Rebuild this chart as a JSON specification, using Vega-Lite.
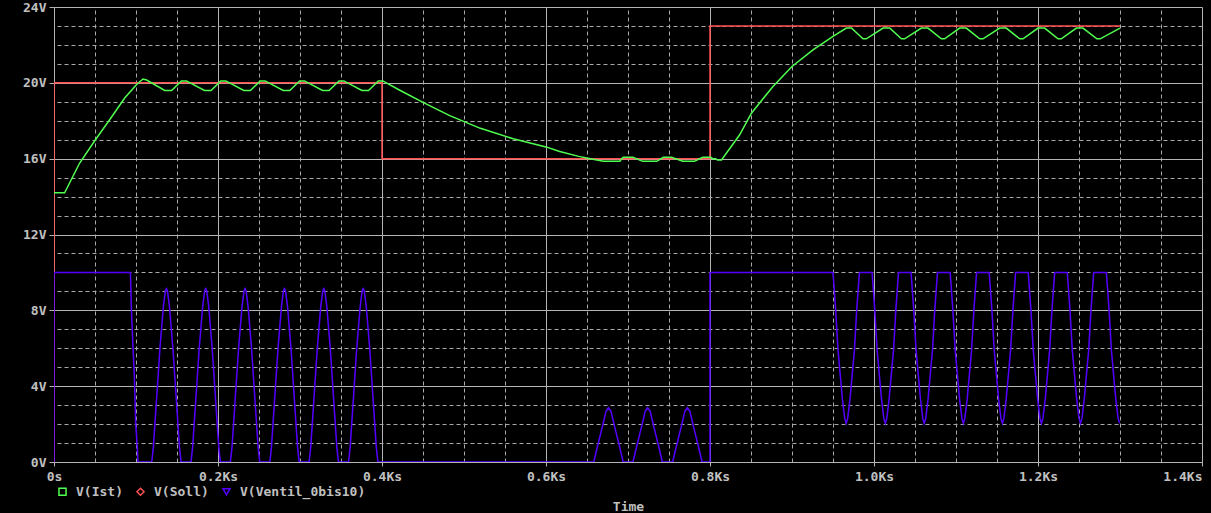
{
  "$schema": "https://vega.github.io/schema/vega-lite/v6.json",
  "width": 1148,
  "height": 455,
  "autosize": {"type": "none"},
  "padding": {"left": 54, "top": 7, "right": 9, "bottom": 51},
  "background": "#000000",
  "config": {
    "view": {"stroke": null},
    "axis": {
      "labelFont": "DejaVu Sans Mono",
      "labelFontWeight": "bold",
      "labelFontSize": 13,
      "labelColor": "#c0c0c0",
      "titleFont": "DejaVu Sans Mono",
      "titleFontWeight": "bold",
      "titleFontSize": 13,
      "titleColor": "#c0c0c0"
    }
  },
  "datasets": {
    "ist": [
      {"t":0,"v":14.2},{"t":13,"v":14.2},{"t":31.3,"v":15.77},{"t":50.5,"v":17.0},{"t":67.9,"v":18.05},{"t":86.2,"v":19.2},{"t":100.5,"v":19.9},{"t":108.5,"v":20.2},{"t":113,"v":20.15},
      {"t":135,"v":19.6},{"t":143.4,"v":19.6},{"t":155.4,"v":20.1},{"t":161.5,"v":20.1},
      {"t":183.5,"v":19.6},{"t":191.5,"v":19.6},{"t":203.5,"v":20.1},{"t":209.5,"v":20.1},
      {"t":231.5,"v":19.6},{"t":239.5,"v":19.6},{"t":251.5,"v":20.1},{"t":257.5,"v":20.1},
      {"t":279.5,"v":19.6},{"t":287.5,"v":19.6},{"t":299.5,"v":20.1},{"t":305.5,"v":20.1},
      {"t":327.5,"v":19.6},{"t":335.5,"v":19.6},{"t":347.5,"v":20.1},{"t":353.5,"v":20.1},
      {"t":375.5,"v":19.6},{"t":383.5,"v":19.6},{"t":395.5,"v":20.1},{"t":401,"v":20.1},
      {"t":420,"v":19.65},{"t":450,"v":18.97},{"t":482.6,"v":18.27},{"t":520,"v":17.6},{"t":560,"v":17.05},{"t":600,"v":16.62},{"t":616.7,"v":16.38},{"t":640,"v":16.12},{"t":654,"v":16.0},
      {"t":670,"v":15.86},{"t":690,"v":15.86},{"t":694,"v":16.07},{"t":706,"v":16.07},{"t":718,"v":15.86},{"t":735,"v":15.86},{"t":743,"v":16.07},{"t":753,"v":16.07},{"t":767,"v":15.86},{"t":781,"v":15.86},{"t":791,"v":16.07},{"t":801,"v":16.07},{"t":803,"v":16.0},{"t":807,"v":16.0},{"t":809,"v":15.93},{"t":814,"v":15.93},
      {"t":836.2,"v":17.26},{"t":850.5,"v":18.4},{"t":876.8,"v":19.81},{"t":900,"v":20.86},{"t":925.6,"v":21.74},{"t":950,"v":22.45},{"t":966.3,"v":22.89},{"t":972.5,"v":22.89},
      {"t":986.6,"v":22.32},{"t":990.6,"v":22.32},{"t":1011.1,"v":22.89},{"t":1019.1,"v":22.89},
      {"t":1033.4,"v":22.32},{"t":1037.4,"v":22.32},{"t":1057.8,"v":22.89},{"t":1065.8,"v":22.89},
      {"t":1082.1,"v":22.32},{"t":1086.1,"v":22.32},{"t":1104.5,"v":22.89},{"t":1112.5,"v":22.89},
      {"t":1128.9,"v":22.32},{"t":1132.9,"v":22.32},{"t":1153.3,"v":22.89},{"t":1161.3,"v":22.89},
      {"t":1177.7,"v":22.32},{"t":1181.7,"v":22.32},{"t":1200.1,"v":22.89},{"t":1208.1,"v":22.89},
      {"t":1224.4,"v":22.32},{"t":1228.4,"v":22.32},{"t":1246.8,"v":22.89},{"t":1254.8,"v":22.89},
      {"t":1271.8,"v":22.32},{"t":1275.8,"v":22.32},{"t":1300,"v":22.89}
    ],
    "soll": [
      {"t":0,"v":0},{"t":0,"v":20},{"t":400,"v":20},{"t":400,"v":16},{"t":800,"v":16},{"t":800,"v":23},{"t":1300,"v":23}
    ],
    "ventil": [
      {"t":0,"v":0},{"t":0,"v":10},{"t":93.2,"v":10},{"t":94.4,"v":8.04},{"t":96.3,"v":6.1},{"t":98,"v":4.52},{"t":99.6,"v":2.07},{"t":101.7,"v":0.66},{"t":102.4,"v":0},
      {"t":119.2,"v":0},{"t":121.2,"v":0.8},{"t":124.9,"v":3.2},{"t":129.2,"v":6.0},{"t":133.4,"v":8.2},{"t":135.9,"v":9.05},{"t":137.1,"v":9.15},{"t":138.3,"v":9.05},{"t":140.8,"v":8.2},{"t":145.0,"v":6.0},{"t":149.3,"v":3.2},{"t":153.0,"v":0.8},{"t":155.0,"v":0},
      {"t":167.1,"v":0},{"t":169.1,"v":0.8},{"t":172.8,"v":3.2},{"t":177.1,"v":6.0},{"t":181.3,"v":8.2},{"t":183.8,"v":9.05},{"t":185.0,"v":9.15},{"t":186.2,"v":9.05},{"t":188.7,"v":8.2},{"t":192.9,"v":6.0},{"t":197.2,"v":3.2},{"t":200.9,"v":0.8},{"t":202.9,"v":0},
      {"t":215.1,"v":0},{"t":217.1,"v":0.8},{"t":220.8,"v":3.2},{"t":225.1,"v":6.0},{"t":229.3,"v":8.2},{"t":231.8,"v":9.05},{"t":233.0,"v":9.15},{"t":234.2,"v":9.05},{"t":236.7,"v":8.2},{"t":240.9,"v":6.0},{"t":245.2,"v":3.2},{"t":248.9,"v":0.8},{"t":250.9,"v":0},
      {"t":263.2,"v":0},{"t":265.2,"v":0.8},{"t":268.9,"v":3.2},{"t":273.2,"v":6.0},{"t":277.4,"v":8.2},{"t":279.9,"v":9.05},{"t":281.1,"v":9.15},{"t":282.3,"v":9.05},{"t":284.8,"v":8.2},{"t":289.0,"v":6.0},{"t":293.3,"v":3.2},{"t":297.0,"v":0.8},{"t":299.0,"v":0},
      {"t":311.1,"v":0},{"t":313.1,"v":0.8},{"t":316.8,"v":3.2},{"t":321.1,"v":6.0},{"t":325.3,"v":8.2},{"t":327.8,"v":9.05},{"t":329.0,"v":9.15},{"t":330.2,"v":9.05},{"t":332.7,"v":8.2},{"t":336.9,"v":6.0},{"t":341.2,"v":3.2},{"t":344.9,"v":0.8},{"t":346.9,"v":0},
      {"t":359.2,"v":0},{"t":361.2,"v":0.8},{"t":364.9,"v":3.2},{"t":369.2,"v":6.0},{"t":373.4,"v":8.2},{"t":375.9,"v":9.05},{"t":377.1,"v":9.15},{"t":378.3,"v":9.05},{"t":380.8,"v":8.2},{"t":385.0,"v":6.0},{"t":389.3,"v":3.2},{"t":393.0,"v":0.8},{"t":395.0,"v":0},
      {"t":658.3,"v":0},{"t":662.8,"v":0.83},{"t":668.9,"v":1.89},{"t":673.2,"v":2.68},{"t":676.2,"v":2.86},{"t":679.2,"v":2.68},{"t":683.5,"v":1.89},{"t":689.6,"v":0.83},{"t":694.1,"v":0},
      {"t":706.1,"v":0},{"t":710.6,"v":0.83},{"t":716.7,"v":1.89},{"t":721.0,"v":2.68},{"t":724.0,"v":2.86},{"t":727.0,"v":2.68},{"t":731.3,"v":1.89},{"t":737.4,"v":0.83},{"t":741.9,"v":0},
      {"t":754.5,"v":0},{"t":759.0,"v":0.83},{"t":765.1,"v":1.89},{"t":769.4,"v":2.68},{"t":772.4,"v":2.86},{"t":775.4,"v":2.68},{"t":779.7,"v":1.89},{"t":785.8,"v":0.83},{"t":790.3,"v":0},
      {"t":800,"v":0},{"t":800,"v":10},
      {"t":950.0,"v":10},{"t":953.3,"v":8.0},{"t":956.1,"v":5.9},{"t":959.0,"v":4.5},{"t":961.5,"v":3.3},{"t":964.3,"v":2.3},{"t":966.1,"v":2.04},{"t":967.9,"v":2.3},{"t":970.7,"v":3.3},{"t":973.2,"v":4.5},{"t":976.1,"v":5.9},{"t":978.9,"v":8.0},{"t":982.2,"v":10},
      {"t":997.7,"v":10},{"t":1001.0,"v":8.0},{"t":1003.8,"v":5.9},{"t":1006.7,"v":4.5},{"t":1009.2,"v":3.3},{"t":1012.0,"v":2.3},{"t":1013.8,"v":2.04},{"t":1015.6,"v":2.3},{"t":1018.4,"v":3.3},{"t":1020.9,"v":4.5},{"t":1023.8,"v":5.9},{"t":1026.6,"v":8.0},{"t":1029.9,"v":10},
      {"t":1045.2,"v":10},{"t":1048.5,"v":8.0},{"t":1051.3,"v":5.9},{"t":1054.2,"v":4.5},{"t":1056.7,"v":3.3},{"t":1059.5,"v":2.3},{"t":1061.3,"v":2.04},{"t":1063.1,"v":2.3},{"t":1065.9,"v":3.3},{"t":1068.4,"v":4.5},{"t":1071.3,"v":5.9},{"t":1074.1,"v":8.0},{"t":1077.4,"v":10},
      {"t":1092.9,"v":10},{"t":1096.2,"v":8.0},{"t":1099.0,"v":5.9},{"t":1101.9,"v":4.5},{"t":1104.4,"v":3.3},{"t":1107.2,"v":2.3},{"t":1109.0,"v":2.04},{"t":1110.8,"v":2.3},{"t":1113.6,"v":3.3},{"t":1116.1,"v":4.5},{"t":1119.0,"v":5.9},{"t":1121.8,"v":8.0},{"t":1125.1,"v":10},
      {"t":1140.5,"v":10},{"t":1143.8,"v":8.0},{"t":1146.6,"v":5.9},{"t":1149.5,"v":4.5},{"t":1152.0,"v":3.3},{"t":1154.8,"v":2.3},{"t":1156.6,"v":2.04},{"t":1158.4,"v":2.3},{"t":1161.2,"v":3.3},{"t":1163.7,"v":4.5},{"t":1166.6,"v":5.9},{"t":1169.4,"v":8.0},{"t":1172.7,"v":10},
      {"t":1188.1,"v":10},{"t":1191.4,"v":8.0},{"t":1194.2,"v":5.9},{"t":1197.1,"v":4.5},{"t":1199.6,"v":3.3},{"t":1202.4,"v":2.3},{"t":1204.2,"v":2.04},{"t":1206.0,"v":2.3},{"t":1208.8,"v":3.3},{"t":1211.3,"v":4.5},{"t":1214.2,"v":5.9},{"t":1217.0,"v":8.0},{"t":1220.3,"v":10},
      {"t":1235.7,"v":10},{"t":1239.0,"v":8.0},{"t":1241.8,"v":5.9},{"t":1244.7,"v":4.5},{"t":1247.2,"v":3.3},{"t":1250.0,"v":2.3},{"t":1251.8,"v":2.04},{"t":1253.6,"v":2.3},{"t":1256.4,"v":3.3},{"t":1258.9,"v":4.5},{"t":1261.8,"v":5.9},{"t":1264.6,"v":8.0},{"t":1267.9,"v":10},
      {"t":1283.4,"v":10},{"t":1286.7,"v":8.0},{"t":1289.5,"v":5.9},{"t":1292.4,"v":4.5},{"t":1294.9,"v":3.3},{"t":1297.7,"v":2.3},{"t":1299.5,"v":2.04}
    ]
  },
  "resolve": {"axis": {"x": "independent", "y": "independent"}},
  "layer": [
    {
      "data": {"name": "soll"},
      "mark": {"type": "line", "strokeWidth": 1.5, "clip": true},
      "encoding": {
        "x": {"field": "t", "type": "quantitative", "scale": {"domain": [0, 1400], "nice": false, "zero": false},
          "axis": {"orient": "bottom", "values": [0,200,400,600,800,1000,1200,1400],
            "labelExpr": "datum.value == 0 ? '0s' : format(datum.value / 1000, '.1f') + 'Ks'",
            "labelAlign": {"condition": {"test": "datum.value == 1400", "value": "right"}, "value": "center"},
            "labelDx": {"condition": {"test": "datum.value == 1400", "value": 4}, "value": 0},
            "grid": true, "gridColor": "#b4b4b4", "gridWidth": 1, "domain": true, "domainColor": "#b4b4b4",
            "ticks": true, "tickColor": "#b4b4b4", "tickSize": 4, "labelPadding": 4,
            "title": "Time", "titlePadding": 17}},
        "y": {"field": "v", "type": "quantitative", "scale": {"domain": [0, 24], "nice": false, "zero": false},
          "axis": {"orient": "left", "values": [0,4,8,12,16,20,24],
            "labelExpr": "datum.value + 'V'",
            "grid": true, "gridColor": "#b4b4b4", "gridWidth": 1, "domain": true, "domainColor": "#b4b4b4",
            "ticks": true, "tickColor": "#b4b4b4", "tickSize": 5, "labelPadding": 3, "title": null}},
        "order": {"value": null},
        "color": {"datum": "V(Soll)", "type": "nominal",
          "scale": {"domain": ["V(Ist)", "V(Soll)", "V(Ventil_0bis10)"], "range": ["#50ff50", "#ff5050", "#5500ff"]},
          "legend": {
            "orient": "none", "legendX": 2, "legendY": 478, "direction": "horizontal", "title": null, "padding": 0,
            "symbolSize": 50, "symbolStrokeWidth": 1.5, "symbolType": "square",
            "labelFont": "DejaVu Sans Mono", "labelFontWeight": "bold", "labelFontSize": 13, "labelColor": "#c0c0c0",
            "labelOffset": 7, "columnPadding": 10,
            "encode": {"symbols": {"update": {
              "shape": {"signal": "datum.value === 'V(Ist)' ? 'square' : (datum.value === 'V(Soll)' ? 'diamond' : 'triangle-down')"},
              "fill": {"value": "transparent"}
            }}}
          }}
      }
    },
    {
      "data": {"name": "ist"},
      "mark": {"type": "line", "strokeWidth": 1.5, "clip": true},
      "encoding": {
        "x": {"field": "t", "type": "quantitative", "scale": {"domain": [0, 1400], "nice": false, "zero": false},
          "axis": {"orient": "top", "values": [50,100,150,250,300,350,450,500,550,650,700,750,850,900,950,1050,1100,1150,1250,1300,1350],
            "grid": true, "gridColor": "#a8a8a8", "gridDash": [4, 3], "gridWidth": 1, "labels": false, "ticks": false, "domain": false, "title": null}},
        "y": {"field": "v", "type": "quantitative", "scale": {"domain": [0, 24], "nice": false, "zero": false},
          "axis": {"orient": "right", "values": [1,2,3,5,6,7,9,10,11,13,14,15,17,18,19,21,22,23],
            "grid": true, "gridColor": "#a8a8a8", "gridDash": [4, 3], "gridWidth": 1, "labels": false, "ticks": false, "domain": false, "title": null}},
        "order": {"value": null},
        "color": {"datum": "V(Ist)", "type": "nominal"}
      }
    },
    {
      "data": {"name": "ventil"},
      "mark": {"type": "line", "strokeWidth": 1.5, "clip": true},
      "encoding": {
        "x": {"field": "t", "type": "quantitative", "scale": {"domain": [0, 1400], "nice": false, "zero": false}, "axis": null},
        "y": {"field": "v", "type": "quantitative", "scale": {"domain": [0, 24], "nice": false, "zero": false}, "axis": null},
        "order": {"value": null},
        "color": {"datum": "V(Ventil_0bis10)", "type": "nominal"}
      }
    }
  ]
}
